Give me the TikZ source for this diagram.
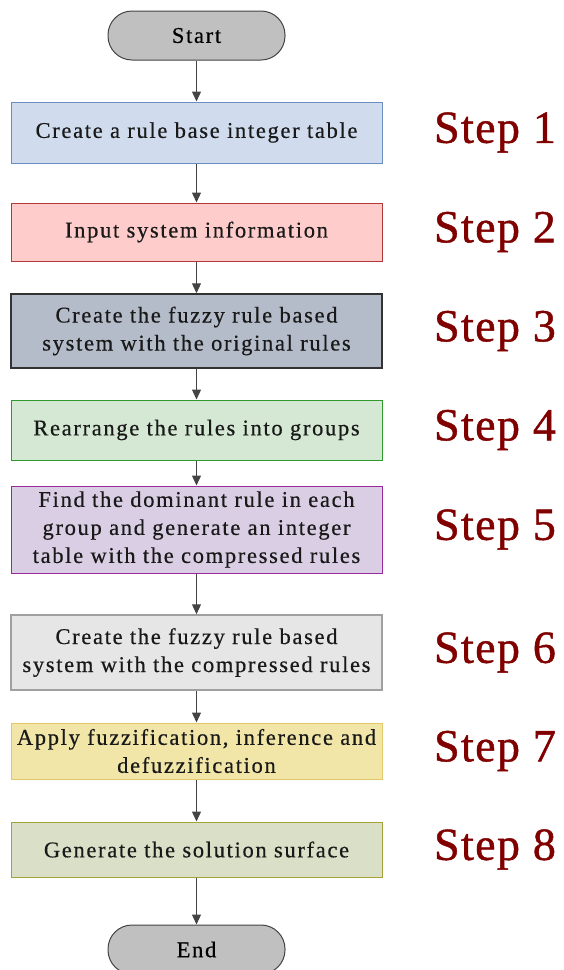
\documentclass[tikz,border=0pt]{standalone}
\usepackage{fontspec}
\setmainfont{Liberation Serif}[LetterSpace=7.5,FakeBold=0.5]
\newfontfamily\stepfont{Liberation Serif}[LetterSpace=3,FakeBold=1]
\usetikzlibrary{arrows.meta}
\definecolor{fillA}{HTML}{D0DCEE}\definecolor{lineA}{HTML}{6C8EBF}
\definecolor{fillB}{HTML}{FFCCCC}\definecolor{lineB}{HTML}{B03A3A}
\definecolor{fillC}{HTML}{B5BCC9}\definecolor{lineC}{HTML}{333333}
\definecolor{fillD}{HTML}{D5E8D4}\definecolor{lineD}{HTML}{2E9A2E}
\definecolor{fillE}{HTML}{DACEE4}\definecolor{lineE}{HTML}{9A2A9A}
\definecolor{fillF}{HTML}{E6E6E6}\definecolor{lineF}{HTML}{A0A0A0}
\definecolor{fillG}{HTML}{F1E5A8}\definecolor{lineG}{HTML}{E0C966}
\definecolor{fillH}{HTML}{DAE0C7}\definecolor{lineH}{HTML}{A3A33A}
\definecolor{termfill}{HTML}{C0C0C0}
\definecolor{steptext}{HTML}{800000}
\definecolor{arrowgray}{HTML}{444444}
\begin{document}
\begin{tikzpicture}[x=1pt,y=1pt,
  box/.style={rectangle,draw,line width=1pt,minimum width=371pt,inner sep=0pt,
    align=center,text=black!90,font=\fontsize{22.5}{28}\selectfont},
  term/.style={rectangle,rounded corners=24pt,draw=arrowgray,fill=termfill,line width=1pt,
    minimum width=177pt,minimum height=49pt,font=\fontsize{22.5}{28}\selectfont},
  steplabel/.style={text=steptext,font=\stepfont\fontsize{46}{50}\selectfont},
  arr/.style={draw=arrowgray,line width=1.2pt,-{Triangle[length=10pt,width=9pt]}}]
\useasboundingbox (0,0) rectangle (563,-970);
\node[term] (start) at (196.5,-35.5) {Start};
\node[box,fill=fillA,draw=lineA,minimum height=61pt] (b1) at (196.5,-132.5) {Create a rule base integer table};
\node[box,fill=fillB,draw=lineB,minimum height=58pt] (b2) at (196.5,-232) {Input system information};
\node[box,fill=fillC,draw=lineC,line width=1.5pt,minimum height=74pt] (b3) at (196.5,-331) {Create the fuzzy rule based\\system with the original rules};
\node[box,fill=fillD,draw=lineD,minimum height=60pt] (b4) at (196.5,-430) {Rearrange the rules into groups};
\node[box,fill=fillE,draw=lineE,minimum height=87pt] (b5) at (196.5,-529.5) {Find the dominant rule in each\\group and generate an integer\\table with the compressed rules};
\node[box,fill=fillF,draw=lineF,line width=1.5pt,minimum height=75pt] (b6) at (196.5,-652.5) {Create the fuzzy rule based\\system with the compressed rules};
\node[box,fill=fillG,draw=lineG,minimum height=56pt] (b7) at (196.5,-751) {Apply fuzzification, inference and\\defuzzification};
\node[box,fill=fillH,draw=lineH,minimum height=55pt] (b8) at (196.5,-849.5) {Generate the solution surface};
\node[term] (fin) at (196.5,-949.5) {End};
\node[steplabel] (s1) at (495,-132.5) {Step 1};
\node[steplabel] (s2) at (495,-232) {Step 2};
\node[steplabel] (s3) at (495,-331) {Step 3};
\node[steplabel] (s4) at (495,-430) {Step 4};
\node[steplabel] (s5) at (495,-529.5) {Step 5};
\node[steplabel] (s6) at (495,-652.5) {Step 6};
\node[steplabel] (s7) at (495,-751) {Step 7};
\node[steplabel] (s8) at (495,-849.5) {Step 8};
\draw[arr] (start) -- (b1);
\draw[arr] (b1) -- (b2);
\draw[arr] (b2) -- (b3);
\draw[arr] (b3) -- (b4);
\draw[arr] (b4) -- (b5);
\draw[arr] (b5) -- (b6);
\draw[arr] (b6) -- (b7);
\draw[arr] (b7) -- (b8);
\draw[arr] (b8) -- (fin);
\end{tikzpicture}
\end{document}
